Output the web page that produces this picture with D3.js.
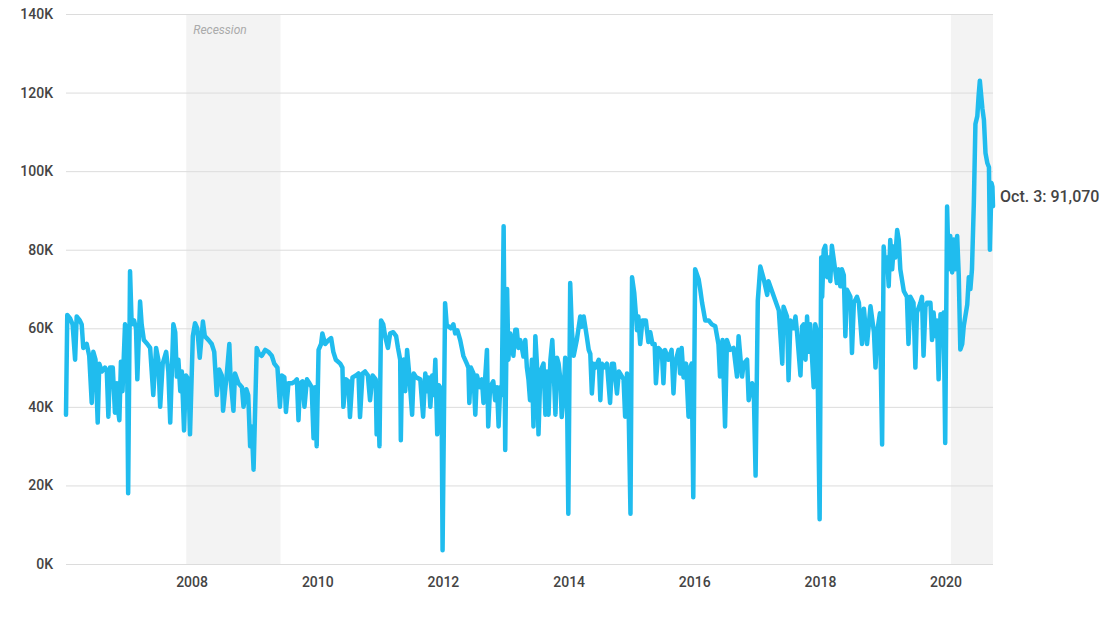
<!DOCTYPE html>
<html>
<head>
<meta charset="utf-8">
<script src="https://cdn.jsdelivr.net/npm/d3@7"></script>
<style>
  body { margin: 0; background: #fff; }
  text { font-family: Roboto, "Noto Sans", sans-serif; }
</style>
</head>
<body>
<script>
// weekly values, thousands. each pair = [fraction of year, value]
var y2006 = [[0.00,38],[0.02,63.4],[0.065,62.5],[0.105,61],[0.145,52],[0.17,63],[0.22,62],[0.25,61],[0.275,55],[0.33,56],[0.37,53],[0.41,41],[0.435,54],[0.47,52],[0.505,36],[0.53,51],[0.57,49],[0.62,50],[0.65,49],[0.675,37.5],[0.70,50],[0.745,50],[0.78,38.5],[0.81,46],[0.83,39],[0.85,36.6],[0.875,51.5],[0.90,44],[0.94,61],[0.97,60],[0.99,18]];
var y2007 = [[0.02,74.5],[0.046,61],[0.083,62],[0.115,60],[0.136,47],[0.18,66.8],[0.205,61],[0.24,57],[0.295,56],[0.34,55],[0.39,43],[0.435,55],[0.47,52],[0.50,40],[0.54,51],[0.595,54],[0.63,49],[0.66,36],[0.71,61],[0.74,59],[0.765,47.7],[0.79,52],[0.82,44],[0.845,49],[0.88,34],[0.91,48],[0.95,47],[0.975,33]];
var y2008 = [[0.02,58],[0.055,61.3],[0.09,60],[0.13,52.5],[0.18,61.7],[0.21,58],[0.27,57],[0.32,56],[0.36,54],[0.40,43],[0.44,49.5],[0.48,48],[0.50,39],[0.56,48.5],[0.60,56],[0.62,47],[0.665,39],[0.69,48.5],[0.745,46],[0.80,45],[0.825,40],[0.87,44.5],[0.90,43],[0.93,30],[0.955,35],[0.985,24]];
var y2009 = [[0.035,55],[0.07,53.5],[0.115,53],[0.17,54.5],[0.22,54],[0.275,53],[0.315,51],[0.365,50],[0.405,40],[0.435,48],[0.475,47.5],[0.50,38.7],[0.54,46],[0.595,46],[0.645,46.5],[0.675,47],[0.70,36.6],[0.725,46],[0.765,46.5],[0.795,40],[0.835,47],[0.875,46],[0.91,45],[0.94,32],[0.965,45],[0.99,30]];
var y2010 = [[0.02,54.5],[0.06,56],[0.08,58.7],[0.125,56],[0.18,57],[0.22,57.5],[0.255,54],[0.295,52],[0.365,51],[0.40,50],[0.415,40],[0.455,47],[0.495,46.5],[0.52,37.4],[0.56,47.5],[0.615,48],[0.655,48.5],[0.68,37.4],[0.72,48.5],[0.76,49],[0.805,48],[0.84,41.7],[0.88,48],[0.93,47],[0.945,33],[0.965,44],[0.99,30]];
var y2011 = [[0.015,62],[0.05,61],[0.08,58],[0.125,55],[0.16,58.7],[0.21,59],[0.255,58],[0.285,55],[0.32,52],[0.33,31.5],[0.35,51],[0.38,52],[0.40,44],[0.43,54.5],[0.46,49],[0.51,38],[0.535,48.5],[0.575,47.5],[0.64,47],[0.685,37.5],[0.72,48.5],[0.75,44],[0.775,47.5],[0.80,40],[0.83,48],[0.855,43],[0.88,52],[0.91,33],[0.935,45.5],[0.955,45],[0.98,40],[0.995,3.5]];
var y2012 = [[0.035,66.4],[0.06,61],[0.09,60.4],[0.125,60],[0.167,61],[0.195,58.7],[0.23,59.5],[0.275,57],[0.30,55],[0.325,53],[0.38,51],[0.405,50],[0.42,41],[0.445,50],[0.485,48.5],[0.515,38],[0.54,48],[0.59,45],[0.62,47],[0.645,41],[0.67,47],[0.70,54.5],[0.72,35],[0.75,45],[0.80,46.5],[0.83,41.7],[0.86,45],[0.885,35],[0.91,45],[0.935,43],[0.965,86],[0.99,29]];
var y2013 = [[0.02,70],[0.04,52],[0.07,58.7],[0.12,53],[0.15,59.6],[0.175,59.6],[0.20,55],[0.23,57],[0.255,55],[0.28,52.8],[0.31,57],[0.335,50],[0.36,47],[0.385,41.7],[0.415,52],[0.44,35],[0.47,58],[0.495,51],[0.52,33],[0.55,49],[0.60,51],[0.63,38],[0.655,49],[0.68,38],[0.71,52],[0.74,57],[0.76,50],[0.79,38],[0.815,52.5],[0.84,51],[0.865,47.5],[0.89,37.4],[0.92,42.5],[0.945,52.5],[0.975,42.5],[0.995,12.8]];
var y2014 = [[0.025,71.5],[0.05,60],[0.08,53],[0.13,57],[0.185,63],[0.21,60.4],[0.24,63],[0.29,57.8],[0.32,54.5],[0.345,53.5],[0.37,43.4],[0.40,51],[0.425,50],[0.48,52],[0.505,41.7],[0.53,51],[0.56,50],[0.61,51],[0.66,41],[0.69,51],[0.72,51],[0.77,43.4],[0.80,49],[0.82,48.5],[0.875,47],[0.90,37.5],[0.93,48.5],[0.955,40],[0.985,12.8]];
var y2015 = [[0.01,73],[0.045,69],[0.09,59.5],[0.11,63],[0.14,56],[0.175,62],[0.23,62],[0.27,56.5],[0.30,59],[0.335,56],[0.37,56],[0.39,46],[0.43,55],[0.485,54],[0.51,46],[0.535,54.5],[0.59,52],[0.64,54.5],[0.67,43.4],[0.695,51],[0.75,54.5],[0.775,48.5],[0.80,55],[0.83,47.5],[0.87,51],[0.91,37.5],[0.935,50],[0.96,51],[0.985,17]];
var y2016 = [[0.015,75],[0.07,72.5],[0.095,70],[0.125,66.5],[0.175,62],[0.23,62],[0.28,61],[0.335,60.5],[0.385,56],[0.41,47.7],[0.45,57],[0.49,35],[0.52,57],[0.57,54.5],[0.625,55],[0.68,47.7],[0.705,58],[0.76,47.7],[0.785,51],[0.84,52],[0.865,41.7],[0.92,46],[0.945,45],[0.975,22.5]];
var y2017 = [[0.01,67],[0.05,75.7],[0.105,72.5],[0.16,68.5],[0.18,72],[0.235,69.5],[0.29,67],[0.345,64.5],[0.40,51],[0.42,65.5],[0.475,63],[0.50,46.8],[0.53,62],[0.58,60],[0.61,63],[0.635,59],[0.69,48],[0.715,60.5],[0.74,61],[0.77,52],[0.795,63],[0.82,54],[0.845,61],[0.90,45],[0.925,61],[0.955,59],[0.995,11.4]];
var y2018 = [[0.02,78],[0.035,68],[0.06,80],[0.085,81],[0.115,73],[0.14,78],[0.165,72],[0.19,81],[0.22,77.5],[0.27,71.5],[0.30,75],[0.325,70.7],[0.35,75],[0.38,73.5],[0.405,58],[0.43,69.8],[0.485,68],[0.51,53.7],[0.54,66.5],[0.59,68],[0.62,66.5],[0.67,56],[0.70,65],[0.75,56],[0.805,65.6],[0.86,59],[0.885,50],[0.91,59],[0.955,63.8],[0.99,30.4]];
var y2019 = [[0.015,80.8],[0.04,74.8],[0.07,78],[0.095,70.7],[0.12,82.5],[0.15,75],[0.175,80.8],[0.20,78],[0.23,85],[0.255,82.5],[0.28,75],[0.335,69.5],[0.385,68],[0.41,56],[0.44,68],[0.49,66.5],[0.52,50],[0.545,64],[0.60,66.5],[0.625,68],[0.65,53],[0.68,65.5],[0.705,66.5],[0.76,66.5],[0.785,57],[0.81,64],[0.84,58],[0.865,62],[0.89,47],[0.92,63.6],[0.945,57.5],[0.97,64],[0.995,30.8]];
var y2020 = [[0.025,91],[0.05,75],[0.075,83.5],[0.105,74.2],[0.13,82.6],[0.155,75],[0.185,83.5],[0.21,73.5],[0.235,54.6],[0.265,56],[0.29,60.6],[0.345,66],[0.37,73],[0.395,70],[0.42,75],[0.45,92],[0.475,112],[0.505,114],[0.525,119],[0.545,123],[0.585,116],[0.61,113],[0.635,104.6],[0.665,102],[0.69,101],[0.705,80],[0.73,97],[0.745,96],[0.754,91.07]];

var years = [2006,2007,2008,2009,2010,2011,2012,2013,2014,2015,2016,2017,2018,2019,2020];
var yearSeries = [y2006,y2007,y2008,y2009,y2010,y2011,y2012,y2013,y2014,y2015,y2016,y2017,y2018,y2019,y2020];

var yTicks = [0,20000,40000,60000,80000,100000,120000,140000];
var xTickYears = [2008,2010,2012,2014,2016,2018,2020];
var recessions = [["2007-12-01","2009-06-01"],["2020-02-01","2020-10-03"]];
var lastLabel = "Oct. 3: 91,070";

var width = 1110;
var height = 617;
var mLeft = 66, mRight = 993, mTop = 14, mBottom = 564;

var toDate = function(yr, frac){
  var a = Date.UTC(yr,0,1), b = Date.UTC(yr+1,0,1);
  return new Date(a + frac*(b-a));
};

var data = [];
years.forEach(function(yr, i){
  yearSeries[i].forEach(function(p){
    data.push({ date: toDate(yr, p[0]), value: p[1]*1000 });
  });
});
data[data.length-1].date = new Date(Date.UTC(2020,9,3));

var svg = d3.select('body').append('svg')
  .attr('width', width)
  .attr('height', height);

var x = d3.scaleUtc()
  .domain([new Date(Date.UTC(2006,0,1)), new Date(Date.UTC(2020,9,3))])
  .range([mLeft, mRight]);

var y = d3.scaleLinear()
  .domain([0, 140000])
  .range([mBottom, mTop]);

// recession bands
svg.selectAll('rect.rec')
  .data(recessions)
  .enter().append('rect')
  .attr('class', 'rec')
  .attr('x', function(d){ return x(new Date(d[0])); })
  .attr('width', function(d){ return x(new Date(d[1])) - x(new Date(d[0])); })
  .attr('y', mTop)
  .attr('height', mBottom - mTop)
  .attr('fill', '#f3f3f3');

svg.append('text')
  .attr('x', x(new Date(recessions[0][0])) + 7)
  .attr('y', mTop + 20)
  .attr('font-size', 12)
  .attr('font-style', 'italic')
  .attr('fill', '#aaa')
  .text('Recession');

// y grid + labels
var yAxis = svg.append('g')
  .attr('transform', 'translate(' + mLeft + ',0)')
  .call(d3.axisLeft(y)
    .tickValues(yTicks)
    .tickSize(-(mRight - mLeft))
    .tickPadding(13)
    .tickFormat(function(d){ return (d/1000) + 'K'; }));
yAxis.select('.domain').remove();
yAxis.selectAll('line').attr('stroke', '#dcdcdc');
yAxis.selectAll('text')
  .attr('font-family', 'Roboto, sans-serif')
  .attr('font-size', 14)
  .attr('font-weight', 500)
  .attr('fill', '#444');

// x labels
var xAxis = svg.append('g')
  .attr('transform', 'translate(0,' + mBottom + ')')
  .call(d3.axisBottom(x)
    .tickValues(xTickYears.map(function(yr){ return new Date(Date.UTC(yr,0,1)); }))
    .tickSize(0)
    .tickPadding(13)
    .tickFormat(d3.utcFormat('%Y')));
xAxis.select('.domain').remove();
xAxis.selectAll('text')
  .attr('font-family', 'Roboto, sans-serif')
  .attr('font-size', 14)
  .attr('font-weight', 500)
  .attr('fill', '#444');

// the line
var line = d3.line()
  .x(function(d){ return x(d.date); })
  .y(function(d){ return y(d.value); });

svg.append('path')
  .datum(data)
  .attr('d', line)
  .attr('fill', 'none')
  .attr('stroke', '#20bcee')
  .attr('stroke-width', 4.5)
  .attr('stroke-linejoin', 'round')
  .attr('stroke-linecap', 'round');

var last = data[data.length-1];
svg.append('text')
  .attr('x', x(last.date) + 7)
  .attr('y', y(last.value) - 10)
  .attr('dy', '0.35em')
  .attr('font-size', 16)
  .attr('font-weight', 500)
  .attr('fill', '#444')
  .text(lastLabel);
</script>
</body>
</html>
